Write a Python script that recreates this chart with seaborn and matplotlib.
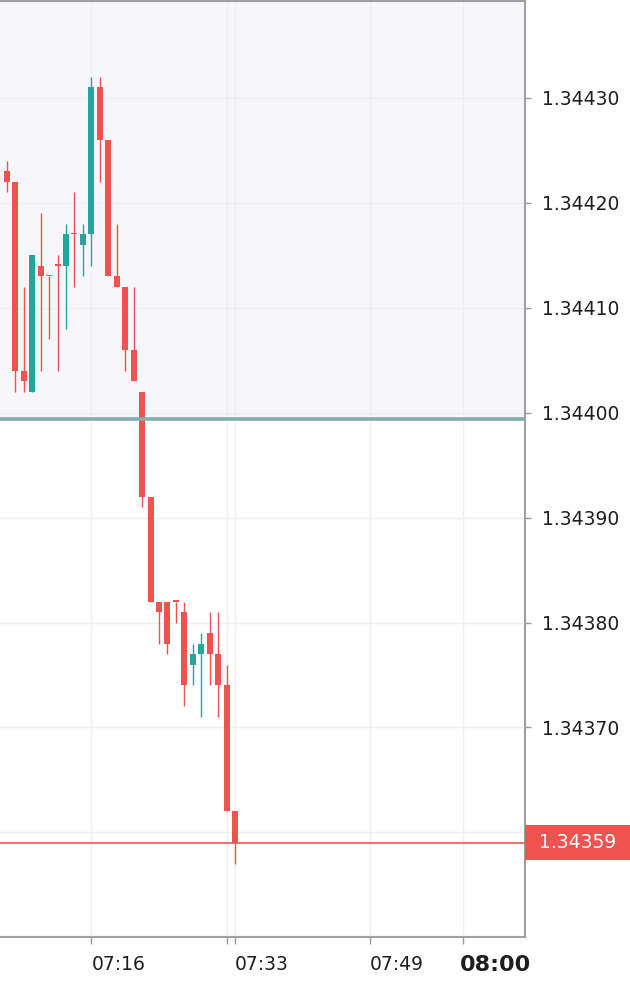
import pandas as pd
import matplotlib.pyplot as plt
import matplotlib.transforms as mtransforms
from matplotlib.patches import Rectangle
from matplotlib.ticker import FormatStrFormatter
import seaborn as sns

# Candles de 1 minuto (GBP)
horas = ['07:06', '07:07', '07:08', '07:09', '07:10', '07:11', '07:12', '07:13', '07:14', '07:15',
         '07:16', '07:17', '07:18', '07:19', '07:20', '07:21', '07:22', '07:23', '07:24', '07:25',
         '07:26', '07:27', '07:28', '07:29', '07:30', '07:31', '07:32', '07:33']

abertura = [1.34423, 1.34422, 1.34404, 1.34402, 1.34414, 1.34413, 1.34414, 1.34414, 1.34417, 1.34416,
            1.34417, 1.34431, 1.34426, 1.34413, 1.34412, 1.34406, 1.34402, 1.34392, 1.34382, 1.34382,
            1.34382, 1.34381, 1.34376, 1.34377, 1.34379, 1.34377, 1.34374, 1.34362]
maxima = [1.34424, 1.34422, 1.34412, 1.34415, 1.34419, 1.34413, 1.34415, 1.34418, 1.34421, 1.34418,
          1.34432, 1.34432, 1.34426, 1.34418, 1.34412, 1.34412, 1.34402, 1.34392, 1.34382, 1.34382,
          1.34382, 1.34382, 1.34378, 1.34379, 1.34381, 1.34381, 1.34376, 1.34362]
minima = [1.34421, 1.34402, 1.34402, 1.34402, 1.34404, 1.34407, 1.34404, 1.34408, 1.34412, 1.34413,
          1.34414, 1.34422, 1.34413, 1.34412, 1.34404, 1.34403, 1.34391, 1.34382, 1.34378, 1.34377,
          1.34380, 1.34372, 1.34374, 1.34371, 1.34374, 1.34371, 1.34362, 1.34357]
fechamento = [1.34422, 1.34404, 1.34403, 1.34415, 1.34413, 1.34413, 1.34414, 1.34417, 1.34417, 1.34417,
              1.34431, 1.34426, 1.34413, 1.34412, 1.34406, 1.34403, 1.34392, 1.34382, 1.34381, 1.34378,
              1.34382, 1.34374, 1.34377, 1.34378, 1.34377, 1.34374, 1.34362, 1.34359]

nivel = 1.343994          # linha horizontal (suporte)
preco_atual = 1.34359

precos_ticks = [1.34360, 1.34370, 1.34380, 1.34390, 1.34400, 1.34410, 1.34420, 1.34430]
horas_ticks = ['07:16', '07:32', '07:33', '07:49', '08:00']
rotulos_ticks = ['07:16', '', '07:33', '07:49', '08:00']

VERDE = '#26a69a'
VERMELHO = '#ef5350'

df = pd.DataFrame({'hora': pd.to_datetime(horas, format='%H:%M'),
                   'open': abertura, 'high': maxima, 'low': minima, 'close': fechamento})
df['cor'] = [VERDE if c > o else VERMELHO for o, c in zip(df['open'], df['close'])]

sns.set_style('white')
plt.rcParams['font.family'] = ['DejaVu Sans']

fig = plt.figure(figsize=(6.3, 9.83), dpi=100)
ax = fig.add_axes([0, 45.7 / 983, 525 / 630, 936.3 / 983])

largura = 0.71 / 1440  # ~0.7 minuto, em dias
corpo_min = 0.0000015

# pavios
ax.vlines(df['hora'], df['low'], df['high'], colors=df['cor'], linewidth=1.0, zorder=3)
# corpos
base = df[['open', 'close']].min(axis=1)
altura = (df['open'] - df['close']).abs().clip(lower=corpo_min)
ax.bar(df['hora'], altura, bottom=base, width=largura, color=df['cor'], linewidth=0, zorder=4)

y_topo = 1.3443924
ax.set_ylim(1.34350, y_topo)
ax.set_xlim(pd.Timestamp('1900-01-01 07:05:11'), pd.Timestamp('1900-01-01 08:07:20'))

# região sombreada acima do nível
ax.axhspan(nivel, y_topo, color='#f6f6fb', zorder=0, linewidth=0)
ax.axhline(nivel, color='#84adb0', linewidth=2.6, zorder=5)
ax.axhline(preco_atual, color=VERMELHO, linewidth=1.2, zorder=5)

# grades
for p in precos_ticks:
    ax.axhline(p, color='#efeff3', linewidth=1, zorder=1)
xt = pd.to_datetime(horas_ticks, format='%H:%M')
for t in xt:
    ax.axvline(t, color='#efeff3', linewidth=1, zorder=1)

ax.yaxis.tick_right()
ax.set_yticks(precos_ticks)
ax.yaxis.set_major_formatter(FormatStrFormatter('%.5f'))
ax.set_xticks(xt)
ax.set_xticklabels(rotulos_ticks)
ax.tick_params(axis='y', which='major', length=4, width=1, color='#9a9a9a', pad=8,
               labelsize=13.5, labelcolor='#1e1e1e', right=True, left=False)
ax.tick_params(axis='x', which='major', length=5, width=1, color='#9a9a9a', pad=8,
               labelsize=13.5, labelcolor='#1e1e1e', bottom=True)

for lab in ax.get_xticklabels():
    lab.set_horizontalalignment('left')
ultimo = ax.get_xticklabels()[-1]
ultimo.set_fontweight('bold')
ultimo.set_fontsize(16)
ultimo.set_transform(ultimo.get_transform() + mtransforms.ScaledTranslation(-3 / 100, 0, fig.dpi_scale_trans))

for lado in ['top', 'right', 'bottom']:
    ax.spines[lado].set_visible(True)
    ax.spines[lado].set_color('#a0a0a0')
    ax.spines[lado].set_linewidth(1.5)
ax.spines['left'].set_visible(False)

# etiqueta do preço atual
trans = mtransforms.blended_transform_factory(ax.transAxes, ax.transData)
h = 0.0000333
ax.add_patch(Rectangle((1.0, preco_atual - h / 2), 0.2, h, transform=trans,
                       facecolor=VERMELHO, edgecolor='none', clip_on=False, zorder=10))
ax.text(1.1, preco_atual, f'{preco_atual:.5f}', transform=trans, ha='center', va='center',
        color='white', fontsize=13.5, zorder=11, clip_on=False)

fig.savefig('out.png', dpi=100, facecolor='white')
